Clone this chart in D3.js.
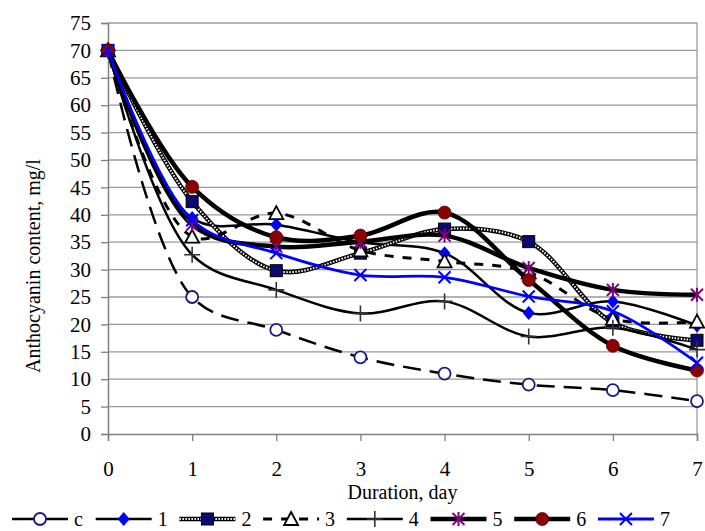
<!DOCTYPE html>
<html>
<head>
<meta charset="utf-8">
<script src="https://cdn.jsdelivr.net/npm/d3@7"></script>
<style>
  body { margin: 0; background: #fff; }
  svg text { font-family: "Liberation Serif", "Times New Roman", serif; fill: #000; }
</style>
</head>
<body>
<div id="chart"></div>
<script>
// data
var days = [0, 1, 2, 3, 4, 5, 6, 7];
var seriesNames = ['c', '1', '2', '3', '4', '5', '6', '7'];
var valuesC = [70, 25, 19, 14, 11, 9, 8, 6];
var values1 = [70, 39.4, 38.2, 35, 33, 22.1, 24.2, 19.8];
var values2 = [70, 42.4, 29.8, 33, 37.4, 35.1, 20.3, 17.1];
var values3 = [70, 36, 40.3, 33.5, 31.5, 29.5, 21, 20.5];
var values4 = [70, 32.7, 26.3, 22, 24.2, 17.8, 19.4, 15.4];
var values5 = [70, 38.2, 34.2, 35.1, 36.2, 30.3, 26.3, 25.4];
var values6 = [70, 45.1, 35.9, 36.2, 40.4, 28.1, 16.1, 11.6];
var values7 = [70, 39, 33, 29, 28.6, 25.1, 22.4, 13];
var yTicks = d3.range(0, 76, 5);

var W = 705, H = 531;
var margin = {top: 23, right: 8, bottom: 97, left: 108};

// line and marker look of each series
var styles = {
  'c': {stroke: '#000', width: 2.5, dash: '18,9', marker: 'ocircle', color: '#1a1a80'},
  '1': {stroke: '#000', width: 2.5, dash: null, marker: 'diamond', color: '#0000ff'},
  '2': {stroke: '#000', width: 4.5, dash: null, hatch: true, marker: 'square', color: '#0a0a70'},
  '3': {stroke: '#000', width: 3, dash: '9,9', marker: 'triangle', color: '#000'},
  '4': {stroke: '#000', width: 2.5, dash: null, marker: 'plus', color: '#333'},
  '5': {stroke: '#000', width: 4.5, dash: null, marker: 'star', color: '#800080'},
  '6': {stroke: '#000', width: 4.5, dash: null, marker: 'circle', color: '#8b0000'},
  '7': {stroke: '#0000ff', width: 2.8, dash: null, marker: 'cross', color: '#0000ff'}
};

var allValues = [valuesC, values1, values2, values3, values4, values5, values6, values7];
var series = seriesNames.map((name, i) => ({name: name, values: allValues[i]}));

var svg = d3.select('#chart').append('svg')
  .attr('width', W)
  .attr('height', H);

var x = d3.scaleLinear().domain([0, 7]).range([margin.left, W - margin.right]);
var y = d3.scaleLinear().domain([0, 75]).range([H - margin.bottom, margin.top]);

// horizontal grid
svg.append('g')
  .selectAll('line')
  .data(yTicks.filter(d => d > 0))
  .enter()
  .append('line')
  .attr('x1', x(0))
  .attr('x2', x(7))
  .attr('y1', d => y(d))
  .attr('y2', d => y(d))
  .attr('stroke', '#9a9a9a')
  .attr('stroke-width', 1.3);

// right border
svg.append('line')
  .attr('x1', x(7)).attr('x2', x(7))
  .attr('y1', y(75)).attr('y2', y(0))
  .attr('stroke', '#9a9a9a')
  .attr('stroke-width', 1.3);

// axes
var yAxis = svg.append('g')
  .attr('transform', 'translate(' + x(0) + ',0)')
  .call(d3.axisLeft(y).tickValues(yTicks).tickSize(7).tickPadding(10));
var xAxis = svg.append('g')
  .attr('transform', 'translate(0,' + y(0) + ')')
  .call(d3.axisBottom(x).tickValues(days).tickSize(7).tickPadding(20).tickFormat(d3.format('d')));

[yAxis, xAxis].forEach(ax => {
  ax.select('.domain').attr('stroke', '#808080').attr('stroke-width', 1.5);
  ax.selectAll('.tick line').attr('stroke', '#808080').attr('stroke-width', 1.3);
  ax.selectAll('.tick text')
    .style('font-size', '21px')
    .style('font-family', '"Liberation Serif", "Times New Roman", serif')
    .attr('fill', '#000');
});

// axis titles
svg.append('text')
  .attr('x', (x(0) + x(7)) / 2)
  .attr('y', 499)
  .attr('text-anchor', 'middle')
  .style('font-size', '20px')
  .text('Duration, day');

svg.append('text')
  .attr('transform', 'translate(40,266) rotate(-90)')
  .attr('text-anchor', 'middle')
  .style('font-size', '20px')
  .text('Anthocyanin content, mg/l');

// marker drawing
function drawMarker(g, type, color, cx, cy) {
  var s = 6;
  if (type === 'ocircle') {
    g.append('circle').attr('cx', cx).attr('cy', cy).attr('r', s)
      .attr('fill', '#fff').attr('stroke', color).attr('stroke-width', 1.8);
  } else if (type === 'circle') {
    g.append('circle').attr('cx', cx).attr('cy', cy).attr('r', s + 0.5)
      .attr('fill', color).attr('stroke', '#5a0000').attr('stroke-width', 0.8);
  } else if (type === 'square') {
    g.append('rect').attr('x', cx - s).attr('y', cy - s).attr('width', 2 * s).attr('height', 2 * s)
      .attr('fill', color).attr('stroke', '#000').attr('stroke-width', 1);
  } else if (type === 'diamond') {
    g.append('path')
      .attr('d', 'M' + cx + ',' + (cy - s - 1) + 'L' + (cx + s) + ',' + cy + 'L' + cx + ',' + (cy + s + 1) + 'L' + (cx - s) + ',' + cy + 'Z')
      .attr('fill', color);
  } else if (type === 'triangle') {
    g.append('path')
      .attr('d', 'M' + cx + ',' + (cy - s - 1) + 'L' + (cx + s + 1) + ',' + (cy + s) + 'L' + (cx - s - 1) + ',' + (cy + s) + 'Z')
      .attr('fill', '#fff').attr('stroke', color).attr('stroke-width', 1.8);
  } else if (type === 'plus') {
    g.append('path')
      .attr('d', 'M' + (cx - s - 2) + ',' + cy + 'H' + (cx + s + 2) + 'M' + cx + ',' + (cy - s - 2) + 'V' + (cy + s + 2))
      .attr('stroke', color).attr('stroke-width', 1.6).attr('fill', 'none');
  } else if (type === 'cross') {
    g.append('path')
      .attr('d', 'M' + (cx - s) + ',' + (cy - s) + 'L' + (cx + s) + ',' + (cy + s) + 'M' + (cx + s) + ',' + (cy - s) + 'L' + (cx - s) + ',' + (cy + s))
      .attr('stroke', color).attr('stroke-width', 2).attr('fill', 'none');
  } else if (type === 'star') {
    g.append('path')
      .attr('d', 'M' + (cx - s) + ',' + (cy - s) + 'L' + (cx + s) + ',' + (cy + s) + 'M' + (cx + s) + ',' + (cy - s) + 'L' + (cx - s) + ',' + (cy + s) +
        'M' + cx + ',' + (cy - s - 1) + 'V' + (cy + s + 1))
      .attr('stroke', color).attr('stroke-width', 2).attr('fill', 'none');
  }
}

function styleLine(sel, st) {
  sel.attr('fill', 'none')
    .attr('stroke', st.stroke)
    .attr('stroke-width', st.width)
    .attr('stroke-linejoin', 'round')
    .attr('stroke-dasharray', st.dash);
}

var line = d3.line()
  .x((d, i) => x(days[i]))
  .y(d => y(d))
  .curve(d3.curveCatmullRom.alpha(0.5));

var plot = svg.append('g');

series.forEach(s => {
  var st = styles[s.name];
  var g = plot.append('g');
  g.append('path').attr('d', line(s.values)).call(styleLine, st);
  if (st.hatch) {
    g.append('path').attr('d', line(s.values))
      .attr('fill', 'none')
      .attr('stroke', '#fff')
      .attr('stroke-width', 2)
      .attr('stroke-dasharray', '1.5,1.5');
  }
  s.values.forEach((v, i) => drawMarker(g, st.marker, st.color, x(days[i]), y(v)));
});

// legend
var legend = svg.append('g');
var legendY = 519;
seriesNames.forEach((name, i) => {
  var st = styles[name];
  var x0 = 12 + i * 83.7;
  var g = legend.append('g');
  var path = g.append('path').attr('d', 'M' + x0 + ',' + legendY + 'H' + (x0 + 56));
  path.call(styleLine, Object.assign({}, st, {dash: name === '3' ? '9,9' : null}));
  if (st.hatch) {
    g.append('path').attr('d', 'M' + x0 + ',' + legendY + 'H' + (x0 + 56))
      .attr('stroke', '#fff').attr('stroke-width', 2).attr('stroke-dasharray', '1.5,1.5');
  }
  drawMarker(g, st.marker, st.color, x0 + 28, legendY);
  g.append('text')
    .attr('x', x0 + 62)
    .attr('y', legendY + 7)
    .style('font-size', '20px')
    .text(name);
});
</script>
</body>
</html>
